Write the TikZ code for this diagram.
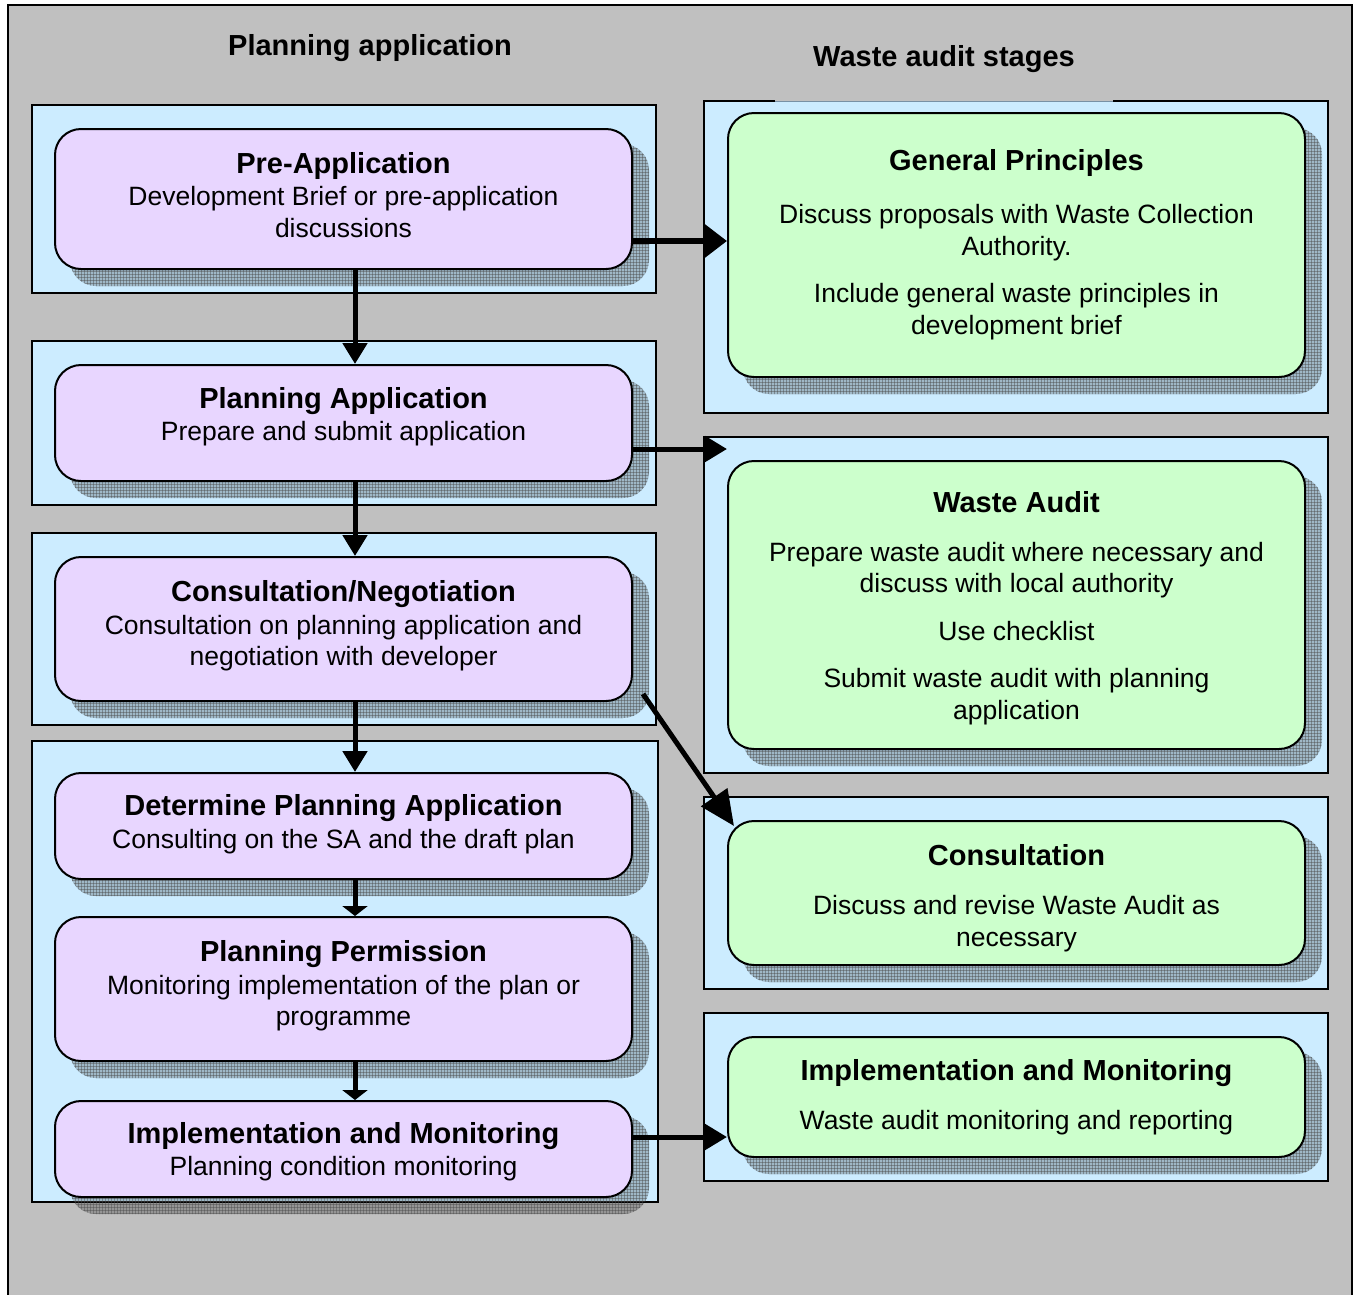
\documentclass[tikz,border=0pt]{standalone}
\usepackage{fontspec}
\setmainfont{Liberation Sans}
\usetikzlibrary{arrows.meta,patterns,calc}
\definecolor{bggray}{RGB}{192,192,192}
\definecolor{pblue}{RGB}{204,236,255}
\definecolor{lav}{RGB}{232,214,255}
\definecolor{mint}{RGB}{204,255,204}
\definecolor{edgeblue}{RGB}{120,145,165}
\newcommand\boxshd[1]{%
  \path[shfill] ([shift={(16,16)}]#1.north west) rectangle ([shift={(16,16)}]#1.south east);
  \path[shpat] ([shift={(16,16)}]#1.north west) rectangle ([shift={(16,16)}]#1.south east);}
\begin{document}
\begin{tikzpicture}[x=1pt,y=-1pt,
  panel/.style={draw=black,line width=2pt,fill=pblue},
  pbox/.style={draw=black,line width=2pt,fill=lav,rounded corners=26pt,minimum width=577pt,inner sep=0pt},
  gbox/.style={pbox,fill=mint},
  shfill/.style={fill=black,fill opacity=0.22,rounded corners=26pt},
  shpat/.style={pattern=grid,pattern color=black!70,rounded corners=26pt,opacity=.45},
  ttl/.style={font=\fontsize{29}{32}\selectfont\bfseries,anchor=base,inner sep=0pt},
  txt/.style={font=\fontsize{26.5}{32}\selectfont,anchor=base,inner sep=0pt},
  arrh/.style={line width=5pt,-{Triangle[length=22pt,width=25pt]}},
  arrhb/.style={line width=6pt,-{Triangle[length=22pt,width=32pt]}},
  arrv/.style={line width=5pt,-{Triangle[length=21pt,width=24pt]}},
  arrvs/.style={line width=5pt,-{Triangle[length=10pt,width=25pt]}},
  arrd/.style={line width=5pt,-{Triangle[length=35pt,width=31pt]}}
]
\useasboundingbox (0,0) rectangle (1357,1294);
\clip (0,0) rectangle (1357,1294);
\fill[white] (0,0) rectangle (1357,1294);
\draw[fill=bggray,line width=2pt] (8,5) rectangle (1352,1320);

% headings
\node[ttl] (h1) at (370,55) {Planning application};
\node[ttl] (h2) at (944,66) {Waste audit stages};

% left panels
\draw[panel] (32,105) rectangle (656,293);
\draw[panel] (32,341) rectangle (656,505);
\draw[panel] (32,533) rectangle (656,725);
\draw[panel] (32,741) rectangle (658,1202);

% right panels
\fill[pblue] (704,101) rectangle (1328,413);
\draw[line width=2pt] (775,101) -- (704,101) -- (704,413) -- (1328,413) -- (1328,101) -- (1113,101);
\draw[edgeblue,line width=1pt] (775,101) -- (1113,101);
\draw[panel] (704,437) rectangle (1328,773);
\draw[panel] (704,797) rectangle (1328,989);
\draw[panel] (704,1013) rectangle (1328,1181);

% box coordinates (nodes drawn after shadows)
\path (343.5,199) node[pbox,minimum height=140pt,draw=none,fill=none] (b1) {}
      (343.5,423) node[pbox,minimum height=116pt,draw=none,fill=none] (b2) {}
      (343.5,629) node[pbox,minimum height=144pt,draw=none,fill=none] (b3) {}
      (343.5,826) node[pbox,minimum height=106pt,draw=none,fill=none] (b4) {}
      (343.5,989) node[pbox,minimum height=144pt,draw=none,fill=none] (b5) {}
      (343.5,1149) node[pbox,minimum height=96pt,draw=none,fill=none] (b6) {}
      (1016.5,245) node[gbox,minimum height=264pt,draw=none,fill=none] (g1) {}
      (1016.5,605) node[gbox,minimum height=288pt,draw=none,fill=none] (g2) {}
      (1016.5,893) node[gbox,minimum height=144pt,draw=none,fill=none] (g3) {}
      (1016.5,1097) node[gbox,minimum height=120pt,draw=none,fill=none] (g4) {};

% shadows
\boxshd{b1}\boxshd{b2}\boxshd{b3}\boxshd{b4}\boxshd{b5}\boxshd{b6}
\boxshd{g1}\boxshd{g2}\boxshd{g3}\boxshd{g4}

% boxes
\node[pbox,minimum height=140pt] (B1) at (b1) {};
\node[pbox,minimum height=116pt] (B2) at (b2) {};
\node[pbox,minimum height=144pt] (B3) at (b3) {};
\node[pbox,minimum height=106pt] (B4) at (b4) {};
\node[pbox,minimum height=144pt] (B5) at (b5) {};
\node[pbox,minimum height=96pt] (B6) at (b6) {};
\node[gbox,minimum height=264pt] (G1) at (g1) {};
\node[gbox,minimum height=288pt] (G2) at (g2) {};
\node[gbox,minimum height=144pt] (G3) at (g3) {};
\node[gbox,minimum height=120pt] (G4) at (g4) {};

% texts left
\node[ttl] (t1a) at (343.5,173) {Pre-Application};
\node[txt] (t1b) at (343.5,205) {Development Brief or pre-application};
\node[txt] (t1c) at (343.5,237) {discussions};
\node[ttl] (t2a) at (343.5,408) {Planning Application};
\node[txt] (t2b) at (343.5,440) {Prepare and submit application};
\node[ttl] (t3a) at (343.5,601) {Consultation/Negotiation};
\node[txt] (t3b) at (343.5,634) {Consultation on planning application and};
\node[txt] (t3c) at (343.5,665) {negotiation with developer};
\node[ttl] (t4a) at (343.5,815) {Determine Planning Application};
\node[txt] (t4b) at (343.5,848) {Consulting on the SA and the draft plan};
\node[ttl] (t5a) at (343.5,961) {Planning Permission};
\node[txt] (t5b) at (343.5,994) {Monitoring implementation of the plan or};
\node[txt] (t5c) at (343.5,1025) {programme};
\node[ttl] (t6a) at (343.5,1143) {Implementation and Monitoring};
\node[txt] (t6b) at (343.5,1175) {Planning condition monitoring};

% texts right
\node[ttl] (u1a) at (1016.5,170) {General Principles};
\node[txt] (u1b) at (1016.5,223) {Discuss proposals with Waste Collection};
\node[txt] (u1c) at (1016.5,255) {Authority.};
\node[txt] (u1d) at (1016.5,302) {Include general waste principles in};
\node[txt] (u1e) at (1016.5,334) {development brief};
\node[ttl] (u2a) at (1016.5,512) {Waste Audit};
\node[txt] (u2b) at (1016.5,561) {Prepare waste audit where necessary and};
\node[txt] (u2c) at (1016.5,592) {discuss with local authority};
\node[txt] (u2d) at (1016.5,640) {Use checklist};
\node[txt] (u2e) at (1016.5,687) {Submit waste audit with planning};
\node[txt] (u2f) at (1016.5,719) {application};
\node[ttl] (u3a) at (1016.5,865) {Consultation};
\node[txt] (u3b) at (1016.5,914) {Discuss and revise Waste Audit as};
\node[txt] (u3c) at (1016.5,946) {necessary};
\node[ttl] (u4a) at (1016.5,1080) {Implementation and Monitoring};
\node[txt] (u4b) at (1016.5,1129) {Waste audit monitoring and reporting};

% connectors
\coordinate (s1) at ([yshift=-42pt]B1.east);
\coordinate (s2) at ([yshift=-26pt]B2.east);
\coordinate (s6) at ([yshift=12pt]B6.east);
\draw[arrhb] (s1) -- (s1 -| G1.west);
\draw[arrh] (s2) -- (s2 -| G2.west);
\draw[arrh] (s6) -- (s6 -| G4.west);
\draw[arrd] ([shift={(10,-8)}]B3.south east) -- ([shift={(7,6)}]G3.north west);
\draw[arrv] ([xshift=11.5pt]B1.south) -- ([xshift=11.5pt]B2.north);
\draw[arrv] ([xshift=11.5pt]B2.south) -- ([xshift=11.5pt]B3.north);
\draw[arrv] ([xshift=11.5pt]B3.south) -- ([xshift=11.5pt]B4.north);
\draw[arrvs] ([xshift=11.5pt]B4.south) -- ([xshift=11.5pt]B5.north);
\draw[arrvs] ([xshift=11.5pt]B5.south) -- ([xshift=11.5pt]B6.north);
\end{tikzpicture}
\end{document}
